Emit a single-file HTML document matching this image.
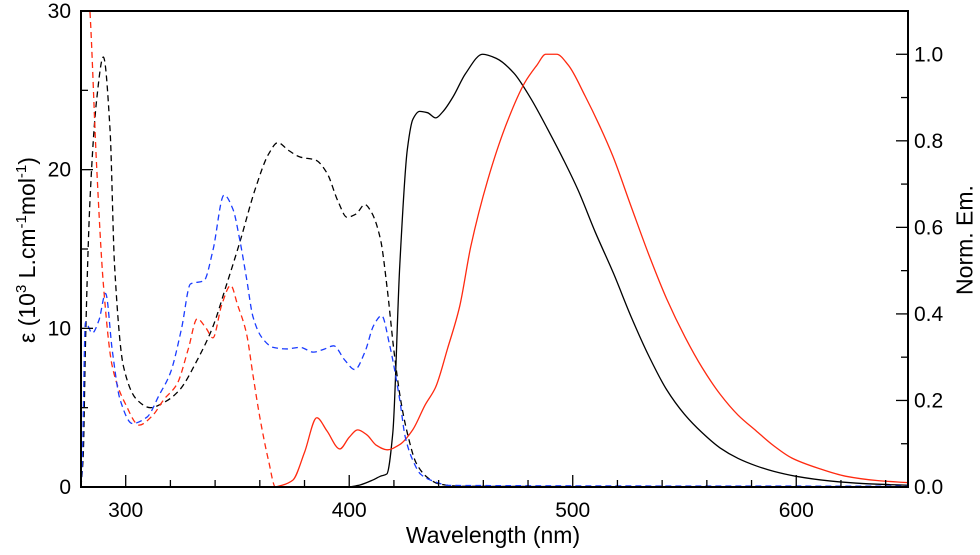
<!DOCTYPE html>
<html><head><meta charset="utf-8"><style>
html,body{margin:0;padding:0;background:#fff;}
svg{display:block;font-family:"Liberation Sans",Arial,sans-serif;}
</style></head><body>
<svg id="chart" width="980" height="555" viewBox="0 0 980 555">
<defs><clipPath id="pc"><rect x="81" y="11" width="827" height="476"/></clipPath></defs>
<g id="series" clip-path="url(#pc)"></g>
<g id="axes"></g>
</svg>
<script>
const absBlackNm = [280,281,282,284,287,290,293,295,299,305,311,318,324,332,339,345,351,358,364,368,373,378,385,390,395,399,403,407,410,414,417,420,423,426,430,435,440,450,650];
const absBlackEps = [0,2,9,18,24.4,27.1,22.5,14,7.6,5.5,5.0,5.4,6.1,8,10.1,12.7,15.4,18.8,21,21.7,21.2,20.8,20.6,19.8,18,17.0,17.2,17.8,17.3,15.6,12.5,8.6,5.5,3.4,1.5,0.6,0.2,0.05,0];
const absRedNm = [280,282,284,287,290,294,300,306,312,317,323,328,332,336,339,343,347,350,354,357,360,364,367,650];
const absRedEps = [40,34,30,20.2,12.8,7.6,5.2,3.9,4.5,5.5,6.5,8.7,10.6,10.0,9.4,11.5,12.7,11.5,9.7,7.0,4.4,1.6,0,0];
const absBlueNm = [280,280.5,282,285,288,291,294,297.5,303,309.5,315,320,325,329,335,339,344,348,351,354,357,361,366,372,378,384,389,393,398,402.5,407,411,414.5,418,422.6,425,428.4,432,437,445,650];
const absBlueEps = [0,1.3,10.4,9.7,10.5,12.2,8.6,5.5,4.0,4.4,5.8,7.2,10.0,12.8,13.0,14.9,18.4,17.5,15.6,13.2,10.7,9.4,8.8,8.7,8.8,8.5,8.7,8.9,8.0,7.4,8.5,10.2,10.8,9.0,5.5,3.2,1.7,0.8,0.4,0.1,0.05];
const emBlackNm = [400,405,410.5,414,416.8,419.5,422.6,426,428.5,431.5,435,438.7,442,446.6,452,459.7,466,473.6,481,489.7,496,502.4,510,518.3,526,534.4,542,550,558,566,574,582,590,599.6,615,630,650];
const emBlack = [0,0.005,0.016,0.025,0.03,0.125,0.51,0.78,0.85,0.868,0.865,0.853,0.868,0.903,0.955,1.0,0.99,0.957,0.9,0.818,0.755,0.686,0.59,0.493,0.395,0.299,0.225,0.168,0.125,0.09,0.066,0.049,0.036,0.025,0.014,0.008,0.004];
const emRedNm = [366.7,370,374.8,380,385.5,390,395.8,400,403.8,408,412,417,422.6,428.4,434,438.6,444,449.4,454.4,462,470.4,478.5,484,487.9,492.8,498,505.6,512,518,526,534.4,542,550.3,558,566,574,582,590,598,610,622,636,650];
const emRed = [0,0.004,0.016,0.08,0.16,0.13,0.088,0.115,0.132,0.12,0.097,0.086,0.098,0.132,0.19,0.23,0.32,0.417,0.556,0.71,0.84,0.934,0.975,1.0,1.0,0.975,0.903,0.835,0.764,0.65,0.532,0.435,0.346,0.275,0.214,0.166,0.13,0.095,0.067,0.043,0.025,0.015,0.01];
const xTicks = [300,400,500,600];
const yLeftTicks = [0,10,20,30];
const yRightTicks = [0.0,0.2,0.4,0.6,0.8,1.0];

const X0=81,X1=908,Y0=487,Y1=11;
const xs = nm => X0 + (nm-280)/(650-280)*(X1-X0);
const yl = v => Y0 - v/30*(Y0-Y1);
const yr = v => Y0 - v/1.1*(Y0-Y1);
const NS='http://www.w3.org/2000/svg';
function mk(tag, attrs, parent){const e=document.createElementNS(NS,tag);for(const k in attrs)e.setAttribute(k,attrs[k]);parent.appendChild(e);return e;}
// monotone cubic (Fritsch-Carlson) in screen space, parameterised by x
function pathD(xsA, ysA, fy){
  const px = xsA.map(xs), py = ysA.map(fy), n = px.length;
  const d = [], m = new Array(n);
  for(let i=0;i<n-1;i++) d.push((py[i+1]-py[i])/(px[i+1]-px[i]));
  m[0]=d[0]; m[n-1]=d[n-2];
  for(let i=1;i<n-1;i++){
    if(d[i-1]*d[i]<=0) m[i]=0;
    else { const w1=2*(px[i+1]-px[i])+(px[i]-px[i-1]), w2=(px[i+1]-px[i])+2*(px[i]-px[i-1]);
      m[i]=(w1+w2)/(w1/d[i-1]+w2/d[i]); }
  }
  let s='M'+px[0].toFixed(2)+','+py[0].toFixed(2);
  for(let i=0;i<n-1;i++){
    const h=(px[i+1]-px[i])/3;
    s+=' C'+(px[i]+h).toFixed(2)+','+(py[i]+m[i]*h).toFixed(2)+' '+(px[i+1]-h).toFixed(2)+','+(py[i+1]-m[i+1]*h).toFixed(2)+' '+px[i+1].toFixed(2)+','+py[i+1].toFixed(2);
  }
  return s;
}
const sg=document.getElementById('series');
const ag=document.getElementById('axes');
let e;
e=mk('path',{d:pathD(emBlackNm,emBlack,yr),fill:'none',stroke:'#000','stroke-width':1.3},sg);


e=mk('path',{d:pathD(emRedNm,emRed,yr),fill:'none',stroke:'#ff2a10','stroke-width':1.3},sg);


e=mk('path',{d:pathD(absBlackNm,absBlackEps,yl),fill:'none',stroke:'#000','stroke-width':1.3,'stroke-dasharray':'6,4'},sg);


e=mk('path',{d:pathD(absRedNm,absRedEps,yl),fill:'none',stroke:'#ff2a10','stroke-width':1.3,'stroke-dasharray':'6,4'},sg);


e=mk('path',{d:pathD(absBlueNm,absBlueEps,yl),fill:'none',stroke:'#1a3cff','stroke-width':1.3,'stroke-dasharray':'6,4'},sg);



e=mk('rect',{x:X0,y:Y1,width:X1-X0,height:Y0-Y1,fill:'none',stroke:'#000','stroke-width':2},ag);


for(let n=280;n<=650;n+=20){
  const major = n%100===0;
  e=mk('line',{x1:xs(n),x2:xs(n),y1:Y0,y2:Y0-(major?12:7),stroke:'#000','stroke-width':1.3},ag);
  
  
}
xTicks.forEach(n=>{
  e=mk('text',{x:xs(n),y:517,'text-anchor':'middle','font-size':21},ag);e.textContent=n;
  
  
});
for(let v=0;v<=30;v+=5){
  e=mk('line',{x1:X0,x2:X0+(v%10===0?12:7),y1:yl(v),y2:yl(v),stroke:'#000','stroke-width':1.3},ag);
  
  
}
yLeftTicks.forEach(v=>{
  e=mk('text',{x:71,y:yl(v)+7,'text-anchor':'end','font-size':21},ag);e.textContent=v;
  
  
});
for(let i=0;i<=11;i++){
  const v=i/10;
  e=mk('line',{x1:X1,x2:X1-(i%2===0?12:7),y1:yr(v),y2:yr(v),stroke:'#000','stroke-width':1.3},ag);
  
  
}
yRightTicks.forEach(v=>{
  e=mk('text',{x:914,y:yr(v)+7,'text-anchor':'start','font-size':21},ag);e.textContent=v.toFixed(1);
  
  
});
</script>
<div style="position:absolute;left:0;top:0;width:980px;height:555px;pointer-events:none;font-family:'Liberation Sans',Arial,sans-serif;">
  <div style="position:absolute;left:0;width:980px;text-align:center;top:522px;font-size:23px;"><span style="position:relative;left:3px">Wavelength (nm)</span></div>
  <div style="position:absolute;left:27px;top:250px;width:0;height:0;"><div style="position:absolute;transform:translate(-50%,-50%) rotate(-90deg);white-space:nowrap;font-size:23px;">ε (10<sup style="font-size:15px">3</sup> L.cm<sup style="font-size:15px">-1</sup>mol<sup style="font-size:15px">-1</sup>)</div></div>
  <div style="position:absolute;left:965px;top:240px;width:0;height:0;"><div style="position:absolute;transform:translate(-50%,-50%) rotate(-90deg);white-space:nowrap;font-size:23px;">Norm. Em.</div></div>
</div>
</body></html>
